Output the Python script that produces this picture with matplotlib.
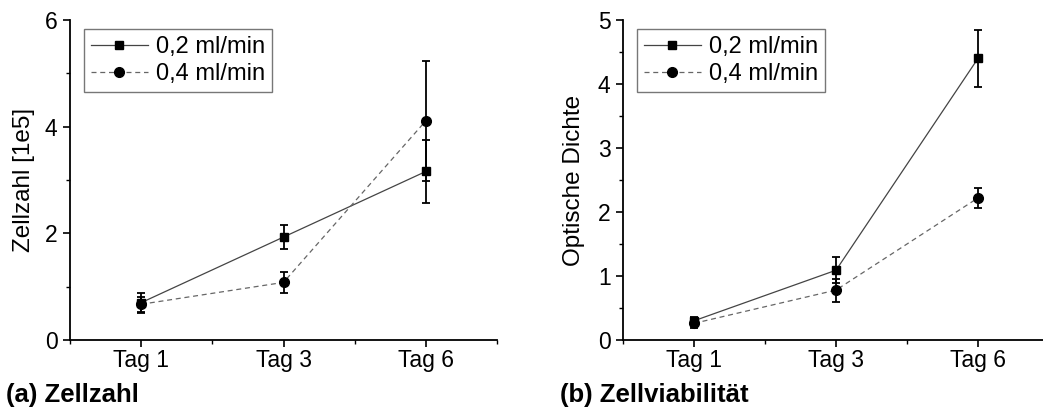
import matplotlib
matplotlib.use("Agg")
import matplotlib.pyplot as plt
from matplotlib.ticker import MultipleLocator

plt.rcParams["font.family"] = ["Liberation Sans", "DejaVu Sans"]

# ── Daten ──
tage = ["Tag 1", "Tag 3", "Tag 6"]
serien = ["0,2 ml/min", "0,4 ml/min"]

zellzahl_02 = [0.70, 1.93, 3.16]
zellzahl_02_err = [0.19, 0.22, 0.59]
zellzahl_04 = [0.67, 1.08, 4.11]
zellzahl_04_err = [0.14, 0.20, 1.12]

od_02 = [0.30, 1.09, 4.40]
od_02_err = [0.06, 0.20, 0.44]
od_04 = [0.26, 0.78, 2.22]
od_04_err = [0.07, 0.18, 0.15]

W, H = 1043, 415
fig = plt.figure(figsize=(W / 100, H / 100), dpi=100)

x = [1, 2, 3]


def panel(rect, y1, e1, y2, e2, ymax, major, minor, ylabel, caption, cap_x):
    ax = fig.add_axes(rect)
    c1 = ax.errorbar(x, y1, yerr=e1, fmt="s-", color="#444444", mfc="black",
                     mec="black", ecolor="black", lw=0.9, elinewidth=1.3,
                     capsize=2.8, capthick=1.3, ms=5.5)
    c2 = ax.errorbar(x, y2, yerr=e2, fmt="o--", color="#666666", mfc="black",
                     mec="black", ecolor="black", lw=0.9, elinewidth=1.3,
                     capsize=2.8, capthick=1.3, ms=7, dashes=(4, 3))
    ax.set_xlim(0.5, 3.5)
    ax.set_ylim(0, ymax)
    ax.set_xticks(x)
    ax.set_xticklabels(tage)
    ax.xaxis.set_minor_locator(MultipleLocator(0.5))
    ax.yaxis.set_major_locator(MultipleLocator(major))
    ax.yaxis.set_minor_locator(MultipleLocator(minor))
    ax.tick_params(which="major", direction="out", length=5, width=1.2,
                   labelsize=16.5)
    ax.tick_params(axis="x", which="major", pad=1.5)
    ax.tick_params(axis="y", which="major", pad=4)
    ax.tick_params(which="minor", direction="out", length=3, width=1.0)
    ax.spines["top"].set_visible(False)
    ax.spines["right"].set_visible(False)
    ax.spines["left"].set_linewidth(1.3)
    ax.spines["bottom"].set_linewidth(1.3)
    ax.set_ylabel(ylabel, fontsize=17.5)
    leg = ax.legend([c1.lines[0], c2.lines[0]], serien, loc="upper left",
                    fontsize=17, frameon=True, fancybox=False,
                    edgecolor="#555555", handlelength=2.4, borderpad=0.3,
                    labelspacing=0.2, handletextpad=0.35, borderaxespad=0,
                    bbox_to_anchor=(14 / (rect[2] * W), 1 - 9 / (rect[3] * H)))
    leg.get_frame().set_linewidth(1.0)
    fig.text(cap_x / W, 1 - 395 / H, caption, fontsize=18.5, fontweight="bold",
             va="center", ha="left")
    return ax


ax1 = panel([70 / W, 75 / H, 427 / W, 320 / H],
            zellzahl_02, zellzahl_02_err, zellzahl_04, zellzahl_04_err,
            6, 2, 1, "Zellzahl [1e5]", "(a) Zellzahl", 6)
ax1.yaxis.set_label_coords(-0.082, 0.5)

ax2 = panel([623 / W, 75 / H, 426 / W, 320 / H],
            od_02, od_02_err, od_04, od_04_err,
            5, 1, 0.5, "Optische Dichte", "(b) Zellviabilität", 560)
ax2.yaxis.set_label_coords(-0.089, 0.5)

fig.savefig("out.png", dpi=100)
